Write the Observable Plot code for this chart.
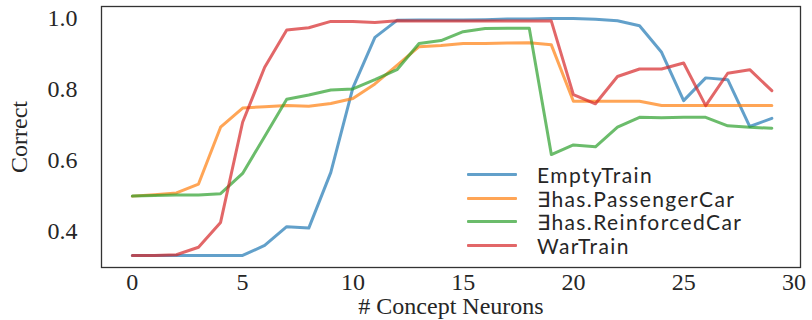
<!DOCTYPE html>
<html>
<head>
<meta charset="utf-8">
<script src="https://cdn.jsdelivr.net/npm/d3@7"></script>
<script src="https://cdn.jsdelivr.net/npm/@observablehq/plot@0.6"></script>
<style>
  html, body { margin: 0; padding: 0; background: #fff; }
  #wrap { position: relative; width: 812px; height: 320px; }
  #legend { position: absolute; left: 467px; top: 163px; font-family: Lato, sans-serif; font-size: 21px; line-height: 23.5px; letter-spacing: 1.4px; color: #262626; }
  #legend .row { display: flex; align-items: center; height: 23.5px; }
  #legend .sw { width: 50px; height: 3px; margin-right: 20px; opacity: 0.7; border-radius: 1px; }
</style>
</head>
<body>
<div id="wrap"><div id="legend"></div></div>
<script>
const neurons = [0,1,2,3,4,5,6,7,8,9,10,11,12,13,14,15,16,17,18,19,20,21,22,23,24,25,26,27,28,29];
const seriesNames = ["EmptyTrain", "\u2203has.PassengerCar", "\u2203has.ReinforcedCar", "WarTrain"];
const seriesColors = ["#1f77b4", "#ff7f0e", "#2ca02c", "#d62728"];
const emptyTrain = [0.333,0.333,0.333,0.333,0.333,0.333,0.361,0.414,0.410,0.567,0.805,0.947,0.995,0.996,0.996,0.996,0.997,0.999,0.999,1.0,1.0,0.998,0.994,0.980,0.905,0.769,0.833,0.828,0.696,0.719];
const passengerCar = [0.500,0.504,0.509,0.534,0.694,0.748,0.752,0.755,0.753,0.761,0.775,0.816,0.868,0.921,0.924,0.930,0.930,0.931,0.932,0.926,0.767,0.767,0.767,0.767,0.755,0.755,0.755,0.755,0.755,0.755];
const reinforcedCar = [0.500,0.502,0.503,0.503,0.507,0.564,0.668,0.773,0.785,0.799,0.802,0.828,0.856,0.930,0.938,0.963,0.972,0.973,0.973,0.617,0.644,0.639,0.694,0.722,0.721,0.722,0.722,0.698,0.694,0.691];
const warTrain = [0.333,0.333,0.335,0.356,0.426,0.708,0.863,0.968,0.974,0.992,0.992,0.989,0.994,0.993,0.993,0.993,0.993,0.993,0.993,0.993,0.786,0.760,0.837,0.858,0.858,0.875,0.755,0.846,0.856,0.797];
const xTicks = [0,5,10,15,20,25,30];
const yTicks = [0.4,0.6,0.8,1.0];

const allSeries = [emptyTrain, passengerCar, reinforcedCar, warTrain];
const rows = [];
allSeries.forEach((vals, s) => vals.forEach((v, i) => rows.push({n: neurons[i], v, s: seriesNames[s]})));

const chart = Plot.plot({
  width: 812,
  height: 320,
  marginLeft: 101,
  marginRight: 12,
  marginTop: 6,
  marginBottom: 53,
  style: {fontFamily: "'Liberation Serif', serif", fontSize: "24px", color: "#262626", background: "#fff"},
  x: {domain: [-1.4, 30.3]},
  y: {domain: [0.299, 1.034]},
  color: {domain: seriesNames, range: seriesColors},
  marks: [
    Plot.axisX({ticks: xTicks, tickSize: 0, tickPadding: 5, label: "# Concept Neurons", labelAnchor: "center", labelOffset: 46, labelArrow: "none", fontSize: 24}),
    Plot.axisY({ticks: yTicks, tickSize: 0, tickPadding: 24, tickFormat: d3.format(".1f"), label: "Correct", labelAnchor: "center", labelOffset: 92, labelArrow: "none", fontSize: 24}),
    Plot.lineY(rows, {x: "n", y: "v", z: "s", stroke: "s", strokeWidth: 3, strokeOpacity: 0.7}),
    Plot.frame({stroke: "#333", strokeWidth: 1.3})
  ]
});
document.getElementById("wrap").prepend(chart);

const legend = document.getElementById("legend");
seriesNames.forEach((name, i) => {
  const row = document.createElement("div");
  row.className = "row";
  const sw = document.createElement("div");
  sw.className = "sw";
  sw.style.background = seriesColors[i];
  const t = document.createElement("span");
  t.textContent = name;
  row.append(sw, t);
  legend.append(row);
});
</script>
</body>
</html>
